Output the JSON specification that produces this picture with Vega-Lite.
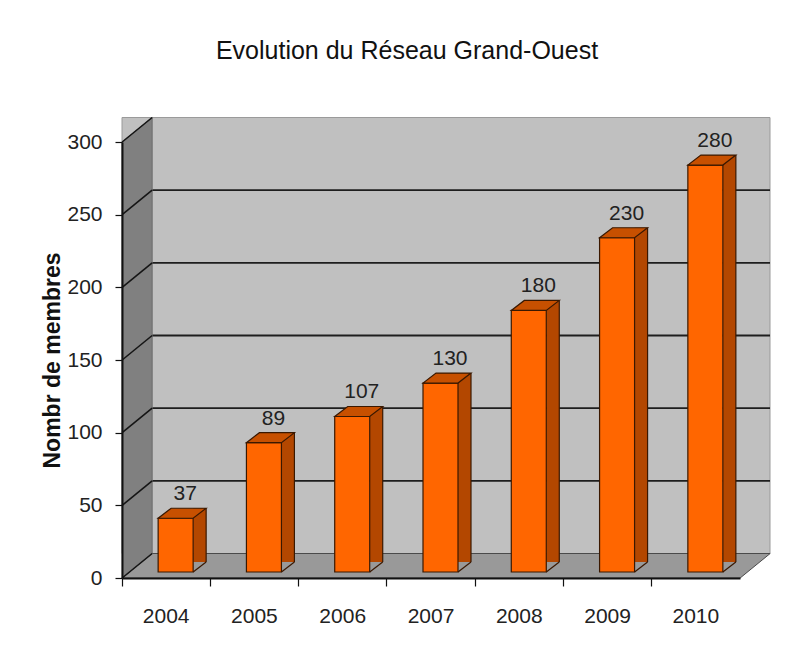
{
  "$schema": "https://vega.github.io/schema/vega-lite/v6.json",
  "width": 618,
  "height": 436,
  "autosize": "none",
  "padding": {"left": 122, "top": 142, "right": 48, "bottom": 75},
  "background": "white",
  "config": {"font": "Liberation Sans", "view": {"stroke": null}},
  "title": {"text": "Evolution du Réseau Grand-Ouest", "fontSize": 25, "fontWeight": "normal", "color": "#111111", "anchor": "middle", "frame": "group", "dx": -24, "offset": 30, "baseline": "alphabetic"},
  "datasets": {
    "members": [
      {"year": "2004", "members": 37},
      {"year": "2005", "members": 89},
      {"year": "2006", "members": 107},
      {"year": "2007", "members": 130},
      {"year": "2008", "members": 180},
      {"year": "2009", "members": 230},
      {"year": "2010", "members": 280}
    ],
    "ticks": [{"v": 0}, {"v": 50}, {"v": 100}, {"v": 150}, {"v": 200}, {"v": 250}, {"v": 300}],
    "grid": [{"v": 50}, {"v": 100}, {"v": 150}, {"v": 200}, {"v": 250}],
    "one": [{"k": 1}]
  },
  "layer": [
    {
      "data": {"name": "one"},
      "mark": {"type": "rect", "fill": "#c0c0c0", "stroke": "#9a9a9a", "strokeWidth": 1, "xOffset": 30, "x2Offset": 30, "yOffset": -24.5, "y2Offset": -24.5},
      "encoding": {
        "y": {"datum": 0, "type": "quantitative", "scale": {"domain": [0, 300], "nice": false}},
        "y2": {"datum": 300}
      }
    },
    {
      "data": {"name": "grid"},
      "mark": {"type": "rule", "stroke": "#1e1e1e", "strokeWidth": 1.8, "xOffset": 30, "x2Offset": 30, "yOffset": -24.5},
      "encoding": {"y": {"field": "v", "type": "quantitative"}}
    },
    {
      "data": {"name": "one"},
      "mark": {"type": "point", "shape": "M-44,0 L574,0 L604,-24.5 L-14,-24.5 Z", "size": 4, "filled": true, "fill": "#999999", "stroke": "#4a4a4a", "strokeWidth": 1, "opacity": 1},
      "encoding": {"x": {"datum": "2004", "type": "ordinal"}, "y": {"datum": 0, "type": "quantitative"}}
    },
    {
      "data": {"name": "one"},
      "mark": {"type": "point", "shape": "M-44,0 L-44,-436 L-14,-460.5 L-14,-24.5 Z", "size": 4, "filled": true, "fill": "#808080", "stroke": "#6a6a6a", "strokeWidth": 1, "opacity": 1},
      "encoding": {"x": {"datum": "2004", "type": "ordinal"}, "y": {"datum": 0, "type": "quantitative"}}
    },
    {
      "data": {"name": "ticks"},
      "mark": {"type": "point", "shape": "M-44,0 L-14,-24.5", "size": 4, "filled": false, "stroke": "#151515", "strokeWidth": 1.6, "opacity": 1},
      "encoding": {"x": {"datum": "2004", "type": "ordinal"}, "y": {"field": "v", "type": "quantitative"}}
    },
    {
      "data": {"name": "members"},
      "mark": {"type": "bar", "width": 13, "fill": "#b34700", "xOffset": 33.5, "x2Offset": 33.5, "yOffset": -16, "y2Offset": -6},
      "encoding": {"x": {"field": "year", "type": "ordinal"}, "y": {"field": "members", "type": "quantitative"}}
    },
    {
      "data": {"name": "members"},
      "mark": {"type": "point", "shape": "M27,-6 L41,-6 L41,-16.8 Z", "size": 4, "filled": true, "fill": "#999999", "strokeWidth": 0, "opacity": 1},
      "encoding": {"x": {"field": "year", "type": "ordinal"}, "y": {"datum": 0, "type": "quantitative"}}
    },
    {
      "data": {"name": "members"},
      "mark": {"type": "point", "shape": "M27,-6 L40,-16", "size": 4, "filled": false, "stroke": "#3a1800", "strokeWidth": 1.2, "opacity": 1},
      "encoding": {"x": {"field": "year", "type": "ordinal"}, "y": {"datum": 0, "type": "quantitative"}}
    },
    {
      "data": {"name": "members"},
      "mark": {"type": "rule", "stroke": "#3a1800", "strokeWidth": 1.2, "xOffset": 40, "x2Offset": 40, "yOffset": -16, "y2Offset": -16},
      "encoding": {"x": {"field": "year", "type": "ordinal"}, "y": {"field": "members", "type": "quantitative"}, "y2": {"datum": 0}}
    },
    {
      "data": {"name": "members"},
      "mark": {"type": "bar", "width": 35, "fill": "#ff6600", "stroke": "#3a1800", "strokeWidth": 1.2, "xOffset": 9.5, "x2Offset": 9.5, "yOffset": -6, "y2Offset": -6},
      "encoding": {
        "x": {"field": "year", "type": "ordinal", "scale": {"type": "band", "paddingInner": 0, "paddingOuter": 0},
              "axis": {"title": null, "zindex": 1, "bandPosition": 0, "labelAlign": "center", "labelAngle": 0, "labelFontSize": 21, "labelColor": "#222222", "labelBaseline": "alphabetic", "labelPadding": 36, "tickSize": 8, "tickColor": "#111111", "tickWidth": 1.2, "domainColor": "#111111", "domainWidth": 2}},
        "y": {"field": "members", "type": "quantitative",
              "axis": {"title": "Nombr de membres", "zindex": 1, "values": [0, 50, 100, 150, 200, 250, 300], "grid": false, "labelFontSize": 21, "labelColor": "#222222", "labelPadding": 13, "tickSize": 7, "tickColor": "#111111", "tickWidth": 1.2, "domainColor": "#111111", "domainWidth": 2, "titleFontSize": 23, "titleFontWeight": "bold", "titleColor": "#111111", "titlePadding": 2}}
      }
    },
    {
      "data": {"name": "members"},
      "mark": {"type": "point", "shape": "M-8,-6 L27,-6 L40,-16 L5,-16 Z", "size": 4, "filled": true, "fill": "#c75000", "stroke": "#3a1800", "strokeWidth": 1.2, "opacity": 1},
      "encoding": {"x": {"field": "year", "type": "ordinal"}, "y": {"field": "members", "type": "quantitative"}}
    },
    {
      "data": {"name": "members"},
      "mark": {"type": "text", "fontSize": 21, "color": "#222222", "align": "center", "baseline": "alphabetic", "dx": 19, "dy": -24},
      "encoding": {"x": {"field": "year", "type": "ordinal"}, "y": {"field": "members", "type": "quantitative"}, "text": {"field": "members"}}
    }
  ]
}
